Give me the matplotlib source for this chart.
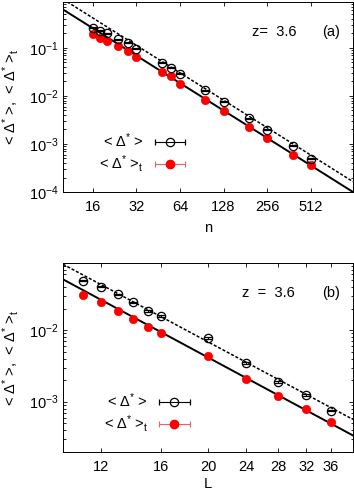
import matplotlib
matplotlib.use('Agg')
import matplotlib.pyplot as plt
import numpy as np
from matplotlib.container import ErrorbarContainer
from matplotlib.legend_handler import HandlerErrorbar
from matplotlib.ticker import FixedLocator, FixedFormatter, LogLocator, NullLocator

plt.rcParams['font.family'] = 'Liberation Sans'
plt.rcParams['mathtext.fontset'] = 'custom'
plt.rcParams['mathtext.rm'] = 'Liberation Sans'
plt.rcParams['mathtext.it'] = 'Liberation Sans'
plt.rcParams['mathtext.bf'] = 'Liberation Sans:bold'
plt.rcParams['font.size'] = 10

# ---- panel (a): vs n ----
n = [16, 18, 20, 24, 28, 32, 48, 56, 64, 96, 128, 192, 256, 384, 512]
d_open_a = [0.261, 0.226, 0.199, 0.152, 0.127, 0.095, 0.0494, 0.0389, 0.0292,
            0.0131, 0.0075, 0.00343, 0.00196, 0.00091, 0.00049]
d_open_a_err = [0.006, 0.005, 0.005, 0.004, 0.003, 0.002, 0.0011, 0.0009, 0.0007,
                0.0003, 0.00017, 0.00008, 0.00005, 0.00002, 0.000012]
d_t_a = [0.190, 0.164, 0.142, 0.110, 0.0866, 0.064, 0.0311, 0.0257, 0.0181,
         0.0084, 0.0049, 0.0023, 0.00135, 0.00058, 0.00036]
d_t_a_err = [0.004, 0.004, 0.003, 0.003, 0.002, 0.0015, 0.0007, 0.0006, 0.0004,
             0.0002, 0.00011, 0.00005, 0.00003, 0.000013, 0.000008]
fit_a_x = [10, 1000]
fit_open_a = [1.03, 1.64e-4]   # dotted
fit_t_a = [0.629, 1.0e-4]      # solid
xt_a = [16, 32, 64, 128, 256, 512]

# ---- panel (b): vs L ----
L = [11, 12, 13, 14, 15, 16, 20, 24, 28, 32, 36]
d_open_b = [0.0492, 0.0405, 0.0316, 0.0244, 0.0187, 0.0159, 0.00782, 0.00349,
            0.00189, 0.00125, 0.00075]
d_open_b_err = [0.0012, 0.001, 0.0008, 0.0006, 0.0005, 0.0004, 0.0002, 0.00009,
                0.00005, 0.00003, 0.00002]
d_t_b = [0.031, 0.0244, 0.0183, 0.0143, 0.0111, 0.0092, 0.00442, 0.00208,
         0.0012, 0.00080, 0.00052]
d_t_b_err = [0.0007, 0.0006, 0.0004, 0.0003, 0.0003, 0.0002, 0.0001, 0.00005,
             0.00003, 0.00002, 0.000013]
fit_b_x = [10, 40]
fit_open_b = [0.0834, 5.65e-4]
fit_t_b = [0.0513, 3.37e-4]
xt_b = [12, 16, 20, 24, 28, 32, 36]

lab_open = r'< $\Delta^{*}$ >'
lab_t = r'< $\Delta^{*}$ >$_{\mathrm{t}}$'
red_bar = '#f06060'
FS = 10.5

fig = plt.figure(figsize=(3.54, 4.90), dpi=100)
ax = fig.add_axes([63/354, 1-192/490, 290/354, 190/490])
bx = fig.add_axes([63/354, 1-451.7/490, 290/354, 188.4/490])


def panel(a, x, yo, yoe, yt, yte, fx, fo, ft, xt, xlim, ylim, xlab, xlab_y, tag, ztxt, zx, leg_anchor):
    a.set_xscale('log'); a.set_yscale('log')
    a.plot(fx, fo, color='k', lw=1.1, ls=(0, (2, 1.2)), zorder=2)
    a.plot(fx, ft, color='k', lw=1.4, zorder=2)
    a.errorbar(x, yo, yerr=yoe, fmt='o', ms=6, mfc='none', mec='k', mew=0.9,
               ecolor='k', elinewidth=0.7, capsize=3, capthick=0.7, zorder=4)
    a.errorbar(x, yt, yerr=yte, fmt='o', ms=6, mfc='red', mec='red', mew=0.5,
               ecolor=red_bar, elinewidth=0.7, capsize=3, capthick=0.7, zorder=3)
    # legend proxies (horizontal bars like gnuplot keys)
    h1 = a.errorbar([np.nan], [np.nan], xerr=[1], fmt='o', ms=6, mfc='none', mec='k',
                    mew=0.9, ecolor='k', elinewidth=0.8, capsize=2.5, capthick=0.8)
    h2 = a.errorbar([np.nan], [np.nan], xerr=[1], fmt='o', ms=6, mfc='red', mec='red',
                    ecolor=red_bar, elinewidth=0.8, capsize=2.5, capthick=0.8)
    a.legend([h1, h2], [lab_open, lab_t], loc='upper left', bbox_to_anchor=leg_anchor,
             frameon=False, markerfirst=False, handlelength=2.2, handletextpad=0.7,
             labelspacing=0.2, fontsize=FS, borderpad=0.2,
             handler_map={ErrorbarContainer: HandlerErrorbar(xerr_size=1.05, numpoints=1)})
    a.set_xlim(*xlim); a.set_ylim(*ylim)
    a.xaxis.set_major_locator(FixedLocator(xt))
    a.xaxis.set_major_formatter(FixedFormatter([str(v) for v in xt]))
    a.xaxis.set_minor_locator(NullLocator())
    a.yaxis.set_minor_locator(LogLocator(base=10, subs=np.arange(2, 10)))
    a.tick_params(which='both', direction='in', top=True, right=True, width=0.6)
    a.tick_params(which='major', length=3.2)
    a.tick_params(which='minor', length=1.8)
    a.tick_params(axis='x', pad=6, labelsize=FS)
    a.tick_params(axis='y', pad=3, labelsize=FS)
    for s in a.spines.values():
        s.set_linewidth(0.7)
    a.set_xlabel(xlab, fontsize=FS, va='top')
    a.xaxis.set_label_coords(0.5, xlab_y)
    a.set_ylabel(lab_open + ',  ' + lab_t, fontsize=FS)
    a.yaxis.set_label_coords(-0.145, 0.5)
    a.text(zx, 0.84, ztxt, transform=a.transAxes, fontsize=FS, va='center')
    a.text(0.893, 0.84, tag, transform=a.transAxes, fontsize=FS, va='center')


panel(ax, n, d_open_a, d_open_a_err, d_t_a, d_t_a_err, fit_a_x, fit_open_a, fit_t_a,
      xt_a, (10, 1000), (1e-4, 0.9), 'n', -0.155, '(a)', 'z=  3.6', 0.652, (0.09, 0.372))
panel(bx, L, d_open_b, d_open_b_err, d_t_b, d_t_b_err, fit_b_x, fit_open_b, fit_t_b,
      xt_b, (10, 40), (2e-4, 0.086), 'L', -0.135, '(b)', 'z  =  3.6', 0.617, (0.105, 0.372))

fig.savefig('out.png', dpi=100)
